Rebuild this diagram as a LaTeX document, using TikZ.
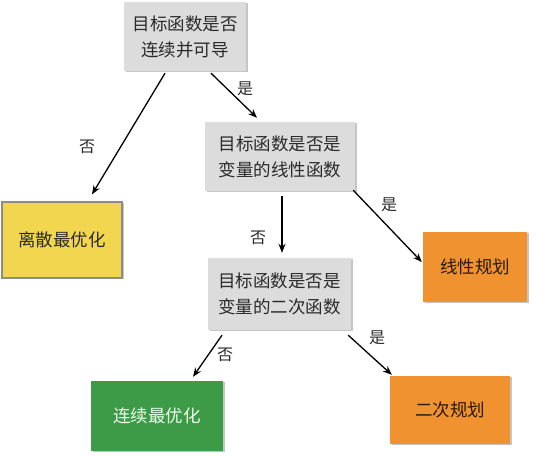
\documentclass[tikz,border=0pt]{standalone}
\usepackage{fontspec}
\setmainfont{Noto Sans CJK SC}
\usetikzlibrary{arrows.meta,shadows}
\definecolor{boxgray}{HTML}{DCDCDC}
\definecolor{boxyellow}{HTML}{F2D650}
\definecolor{boxgreen}{HTML}{3D9B47}
\definecolor{boxorange}{HTML}{F0922F}
\definecolor{txtdark}{HTML}{2A2A2A}
\tikzset{
  base/.style={inner sep=0pt, align=center, font=\fontsize{17.5}{26}\selectfont, text=txtdark,
    drop shadow={shadow xshift=1.5pt, shadow yshift=-1.5pt, fill=black!45, opacity=0.5}},
  qbox/.style={base, fill=boxgray},
  ybox/.style={base, fill=boxyellow, draw=black!45, line width=1.2pt},
  gbox/.style={base, fill=boxgreen, text=white!92!green},
  obox/.style={base, fill=boxorange, text=black!80!brown},
  arr/.style={-{Stealth[length=9pt,width=7pt]}, line width=1.3pt},
  lab/.style={font=\fontsize{16}{18}\selectfont, text=txtdark}
}
\begin{document}
\begin{tikzpicture}[x=1pt,y=1pt]
\useasboundingbox (0,0) rectangle (546,455);
\node[qbox, minimum width=122pt, minimum height=69pt] (b1) at (185,418.5) {目标函数是否\\连续并可导};
\node[qbox, minimum width=150pt, minimum height=69pt] (b2) at (280,298.5) {目标函数是否是\\变量的线性函数};
\node[qbox, minimum width=143pt, minimum height=72pt] (b3) at (279.5,161) {目标函数是否是\\变量的二次函数};
\node[ybox, minimum width=120pt, minimum height=76pt] (ls) at (62,215) {离散最优化};
\node[obox, minimum width=104pt, minimum height=70pt] (xx) at (475,188) {线性规划};
\node[gbox, minimum width=132pt, minimum height=70pt] (lx) at (157,39) {连续最优化};
\node[obox, minimum width=120pt, minimum height=68pt] (ec) at (450,45) {二次规划};

\draw[arr] ([xshift=-20pt,yshift=-2pt]b1.south) -- ([xshift=30pt,yshift=7pt]ls.north);
\draw[arr] ([xshift=26pt,yshift=-2pt]b1.south) -- ([xshift=-23pt,yshift=4pt]b2.north);
\draw[arr] ([xshift=2pt,yshift=-5pt]b2.south) -- ([xshift=2.5pt,yshift=5pt]b3.north);
\draw[arr] ([xshift=-2pt,yshift=1pt]b2.south east) -- ([xshift=-1pt,yshift=5pt]xx.west);
\draw[arr] ([xshift=-57.5pt,yshift=-5pt]b3.south) -- ([xshift=36pt,yshift=4pt]lx.north);
\draw[arr] ([xshift=-3pt,yshift=-5pt]b3.south east) -- ([xshift=2pt,yshift=1pt]ec.north west);

\node[lab] (l1) at (87,308) {否};
\node[lab] (l2) at (245,366) {是};
\node[lab] (l3) at (258,217) {否};
\node[lab] (l4) at (389,250) {是};
\node[lab] (l5) at (225,100) {否};
\node[lab] (l6) at (377,117) {是};
\end{tikzpicture}
\end{document}
